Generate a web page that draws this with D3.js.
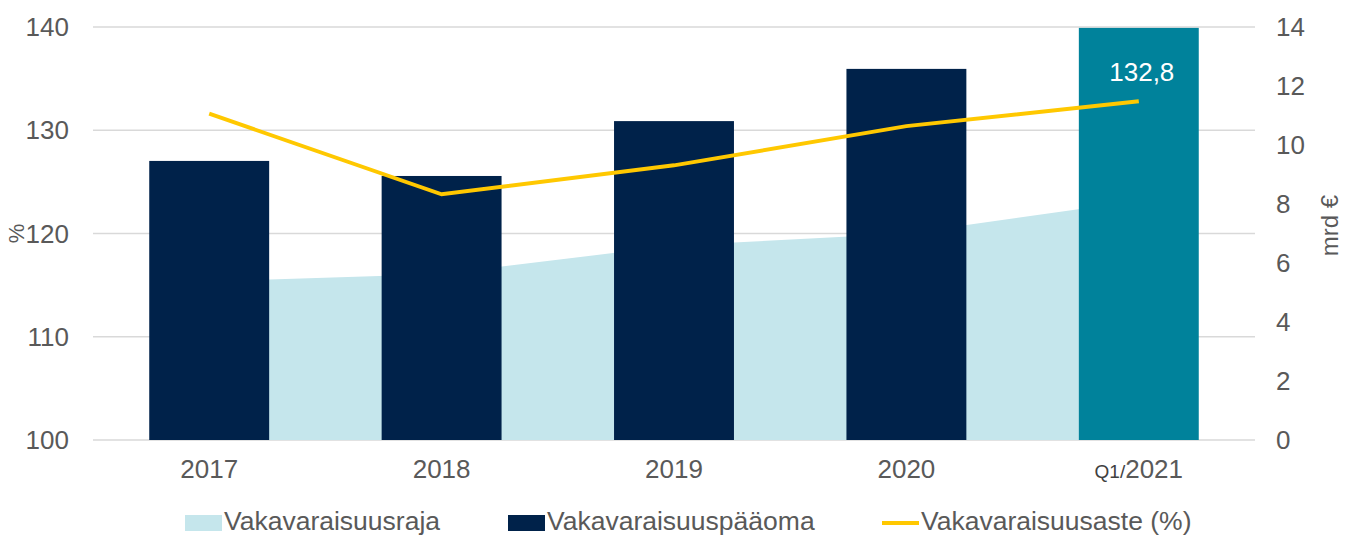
<!DOCTYPE html>
<html><head><meta charset="utf-8">
<script src="https://cdn.jsdelivr.net/npm/d3@7"></script>
<style>body{margin:0;background:#fff}svg{display:block;font-family:"Liberation Sans",Arial,sans-serif}</style>
</head><body><svg id="c" width="1353" height="537"></svg>
<script>
const categories = ["2017","2018","2019","2020","Q1/2021"];
const capital = [9.46, 8.95, 10.81, 12.58, 13.97];      // Vakavaraisuuspääoma, mrd €
const requirement = [5.37, 5.63, 6.59, 7.0, 8.11];     // Vakavaraisuusraja, mrd €
const ratio = [131.6, 123.8, 126.6, 130.4, 132.8];      // Vakavaraisuusaste, %
const leftTicks = [100,110,120,130,140];
const rightTicks = [0,2,4,6,8,10,12,14];
const legendLabels = ["Vakavaraisuusraja","Vakavaraisuuspääoma","Vakavaraisuusaste (%)"];

const svg = d3.select("#c");
const L=93, R=1255, T=27, B=440;
const x = d3.scaleBand().domain(categories).range([L,R]).paddingInner(0.484).paddingOuter(0.242);
const yL = d3.scaleLinear().domain([100,140]).range([B,T]);
const yR = d3.scaleLinear().domain([0,14]).range([B,T]);
const cx = c => x(c)+x.bandwidth()/2;
const textCol="#595959";

// gridlines
svg.append("g").selectAll("line").data(leftTicks).join("line")
  .attr("x1",L).attr("x2",R).attr("y1",d=>yL(d)).attr("y2",d=>yL(d))
  .attr("stroke","#d9d9d9").attr("stroke-width",1.5);

// area
svg.append("path").datum(requirement)
  .attr("fill","#c5e6ec")
  .attr("d", d3.area().x((d,i)=>cx(categories[i])).y0(yR(0)).y1(d=>yR(d)));

// bars
svg.append("g").selectAll("rect").data(capital).join("rect")
  .attr("x",(d,i)=>x(categories[i])).attr("width",x.bandwidth())
  .attr("y",d=>yR(d)).attr("height",d=>yR(0)-yR(d))
  .attr("fill",(d,i)=>i===categories.length-1?"#00829b":"#00224a");

// line
svg.append("path").datum(ratio)
  .attr("fill","none").attr("stroke","#ffc800").attr("stroke-width",4)
  .attr("d", d3.line().x((d,i)=>cx(categories[i])).y(d=>yL(d)));

// data label
const li = ratio.length-1;
svg.append("text").attr("x",cx(categories[li])+3).attr("y",yL(ratio[li])-20)
  .attr("text-anchor","middle").attr("fill","#fff").attr("font-size",26)
  .text(d3.format(".1f")(ratio[li]).replace(".",","));

// left axis labels
svg.append("g").selectAll("text").data(leftTicks).join("text")
  .attr("x",69).attr("y",d=>yL(d)+9).attr("text-anchor","end")
  .attr("fill",textCol).attr("font-size",26).text(d=>d);
// right axis labels
svg.append("g").selectAll("text").data(rightTicks).join("text")
  .attr("x",1276).attr("y",d=>yR(d)+9).attr("text-anchor","start")
  .attr("fill",textCol).attr("font-size",26).text(d=>d);

// x labels
const xl = svg.append("g").selectAll("text").data(categories).join("text")
  .attr("x",d=>cx(d)).attr("y",478).attr("text-anchor","middle")
  .attr("fill",textCol).attr("font-size",26);
xl.each(function(d){
  const t=d3.select(this);
  if(d.includes("/")){
    const [a,b]=d.split("/");
    t.append("tspan").attr("font-size",19).attr("fill","#404040").text(a+"/");
    t.append("tspan").attr("dx",0).text(b);
  } else t.text(d);
});

// axis titles
svg.append("text").attr("transform",`translate(24,${(T+B)/2}) rotate(-90)`)
  .attr("text-anchor","middle").attr("fill",textCol).attr("font-size",22).text("%");
svg.append("text").attr("transform",`translate(1338,${(T+B)/2-8}) rotate(-90)`)
  .attr("text-anchor","middle").attr("fill",textCol).attr("font-size",24).text("mrd €");

// legend
const lg = svg.append("g");
const lx=[185,508,882];
legendLabels.forEach((lab,i)=>{
  if(i<2) lg.append("rect").attr("x",lx[i]).attr("y",515).attr("width",37).attr("height",16)
    .attr("fill",i===0?"#c5e6ec":"#00224a");
  else lg.append("line").attr("x1",lx[i]).attr("x2",lx[i]+37).attr("y1",523).attr("y2",523)
    .attr("stroke","#ffc800").attr("stroke-width",4);
  lg.append("text").attr("x",lx[i]+39).attr("y",530).attr("fill",textCol).attr("font-size",26.5).text(lab);
});
</script></body></html>
